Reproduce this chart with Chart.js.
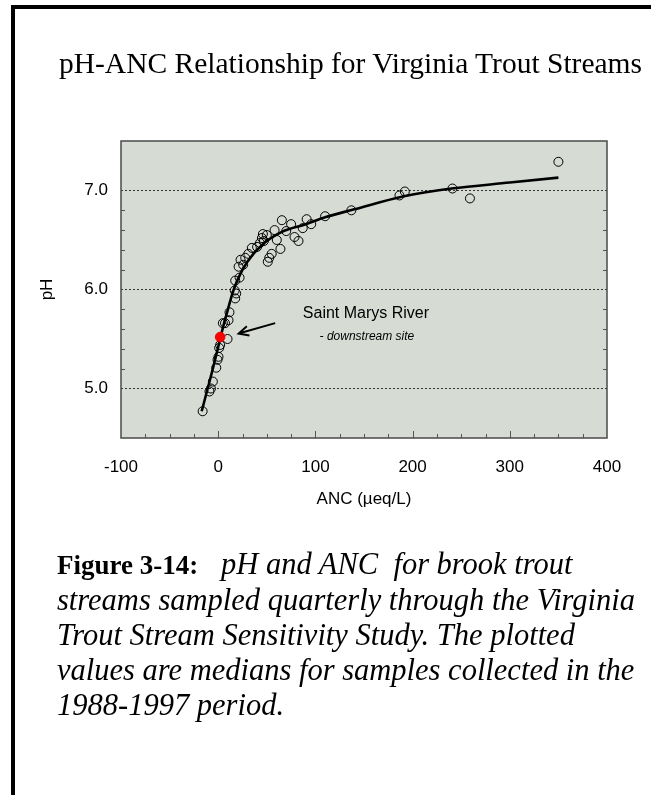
<!DOCTYPE html>
<html>
<head>
<meta charset="utf-8">
<script src="https://cdn.jsdelivr.net/npm/chart.js@4/dist/chart.umd.min.js"></script>
<style>
  html, body { margin: 0; padding: 0; background: #fff; }
  body { width: 651px; height: 795px; position: relative; overflow: hidden; }
  #frame { position: absolute; left: 11px; top: 5px; width: 700px; height: 900px;
           border-left: 4px solid #000; border-top: 4px solid #000; }
  #cv { position: absolute; left: 0; top: 0; }
  #title { position: absolute; left: 0; width: 701px; top: 46px; text-align: center; line-height: 34px;
           font-family: "Liberation Serif", "Times New Roman", serif; font-size: 29.5px; color: #000; white-space: nowrap; }
  #caption { position: absolute; left: 57px; top: 547px; width: 640px;
             font-family: "Liberation Serif", "Times New Roman", serif; font-size: 30.5px;
             line-height: 35px; font-style: italic; color: #000; white-space: nowrap; }
  #caption b { font-style: normal; font-size: 27px; }
</style>
</head>
<body>
<div id="frame"></div>
<canvas id="cv" width="651" height="795"></canvas>
<div id="title">pH-ANC Relationship for Virginia Trout Streams</div>
<div id="caption"><b>Figure 3-14:</b>&nbsp;&nbsp;&nbsp;pH and ANC&nbsp; for brook trout<br>streams sampled quarterly through the Virginia<br>Trout Stream Sensitivity Study. The plotted<br>values are medians for samples collected in the<br>1988-1997 period.</div>
<script>
// stream medians (ANC in ueq/L, pH)
var ancValues = [-16, -9, -7.5, -5.5, -2, -0.7, 0.3, 1, 2, 9.6, 4.8, 7, 10.6, 11.6, 17.5, 18.5, 17, 17.5,
    22, 21, 23, 25.7, 27.8, 31, 34.6, 40, 43, 47, 45, 46, 50, 51, 52.5, 55, 58, 60.3, 64, 65.5, 70, 75,
    78.5, 82.6, 87, 91, 95.7, 110, 137, 186.5, 192, 241, 259, 350];
var phValues = [4.77, 4.97, 5.00, 5.07, 5.21, 5.29, 5.32, 5.41, 5.44, 5.50, 5.66, 5.66, 5.69, 5.77, 5.91, 5.96, 5.99, 6.09,
    6.12, 6.23, 6.30, 6.25, 6.32, 6.36, 6.42, 6.43, 6.47, 6.49, 6.52, 6.56, 6.55, 6.28, 6.32, 6.36, 6.60, 6.50, 6.41, 6.70, 6.59, 6.66,
    6.53, 6.49, 6.62, 6.71, 6.66, 6.74, 6.80, 6.95, 6.99, 7.02, 6.92, 7.29];

// Saint Marys River - downstream site
var siteAnc = [2];
var sitePh = [5.52];

// fitted relationship
var curveAnc = [-17, -10, -5, 0, 5, 10, 15, 20, 30, 45, 65, 90, 110, 140, 190, 240, 300, 350];
var curvePh = [4.77, 5.03, 5.22, 5.42, 5.62, 5.80, 5.97, 6.10, 6.28, 6.45, 6.58, 6.66, 6.73, 6.81, 6.94, 7.02, 7.08, 7.13];

var xTicks = [-100, 0, 100, 200, 300, 400];
var yTicks = [5, 6, 7];

function toPoints(xs, ys) {
    return xs.map(function (x, i) { return {x: x, y: ys[i]}; });
}

var note = {
    label: 'Saint Marys River', sub: '- downstream site',
    labelAt: [152, 5.76], subAt: [153, 5.52],
    arrowFrom: [58.6, 5.66], arrowTo: [21, 5.555]
};

var plotDecor = {
    id: 'plotDecor',
    beforeDraw: function (chart) {
        var a = chart.chartArea, c = chart.ctx;
        c.save();
        c.fillStyle = 'rgb(214,219,212)';
        c.fillRect(a.left, a.top, a.right - a.left, a.bottom - a.top);
        c.restore();
    },
    afterDatasetsDraw: function (chart) {
        var a = chart.chartArea, c = chart.ctx;
        var xs = chart.scales.x, ys = chart.scales.y;
        c.save();
        // minor ticks
        c.strokeStyle = '#555';
        c.lineWidth = 1;
        c.beginPath();
        for (var v = -75; v < 400; v += 25) {
            var px = Math.round(xs.getPixelForValue(v)) + 0.5;
            var len = (v % 100 === 0) ? 7 : 4;
            c.moveTo(px, a.bottom);
            c.lineTo(px, a.bottom - len);
        }
        for (var k = 0; k <= 10; k++) {
            var pv = 5 + k * 0.2;
            if (Math.abs(pv - Math.round(pv)) < 0.01) continue;
            var py = Math.round(ys.getPixelForValue(pv)) + 0.5;
            c.moveTo(a.left, py); c.lineTo(a.left + 4, py);
            c.moveTo(a.right, py); c.lineTo(a.right - 4, py);
        }
        c.stroke();
        // plot frame
        c.strokeStyle = '#4a4a4a';
        c.lineWidth = 1.5;
        c.strokeRect(a.left, a.top, a.right - a.left, a.bottom - a.top);

        // annotation
        c.fillStyle = '#000';
        c.textAlign = 'center';
        c.textBaseline = 'middle';
        c.font = '16px "Liberation Sans", Arial, sans-serif';
        c.fillText(note.label, xs.getPixelForValue(note.labelAt[0]), ys.getPixelForValue(note.labelAt[1]));
        c.font = 'italic 12px "Liberation Sans", Arial, sans-serif';
        c.fillText(note.sub, xs.getPixelForValue(note.subAt[0]), ys.getPixelForValue(note.subAt[1]));

        var x1 = xs.getPixelForValue(note.arrowFrom[0]), y1 = ys.getPixelForValue(note.arrowFrom[1]);
        var x2 = xs.getPixelForValue(note.arrowTo[0]), y2 = ys.getPixelForValue(note.arrowTo[1]);
        var ang = Math.atan2(y2 - y1, x2 - x1);
        c.strokeStyle = '#000';
        c.lineWidth = 2;
        c.beginPath();
        c.moveTo(x1, y1); c.lineTo(x2, y2);
        c.moveTo(x2 - 11 * Math.cos(ang - 0.45), y2 - 11 * Math.sin(ang - 0.45));
        c.lineTo(x2, y2);
        c.lineTo(x2 - 11 * Math.cos(ang + 0.45), y2 - 11 * Math.sin(ang + 0.45));
        c.stroke();
        c.restore();
    }
};

var chart = new Chart(document.getElementById('cv'), {
    type: 'scatter',
    data: {
        datasets: [
            {
                label: 'Saint Marys River',
                data: toPoints(siteAnc, sitePh),
                pointRadius: 4.8,
                pointBackgroundColor: '#f00',
                pointBorderColor: '#e00',
                pointBorderWidth: 1
            },
            {
                label: 'streams',
                data: toPoints(ancValues, phValues),
                pointRadius: 4.5,
                pointBackgroundColor: 'rgba(0,0,0,0)',
                pointBorderColor: '#000',
                pointBorderWidth: 1
            },
            {
                label: 'fit',
                data: toPoints(curveAnc, curvePh),
                showLine: true,
                borderColor: '#000',
                borderWidth: 2.6,
                pointRadius: 0,
                cubicInterpolationMode: 'monotone',
                fill: false
            }
        ]
    },
    options: {
        responsive: false,
        animation: false,
        events: [],
        layout: { padding: { left: 30, top: 141, right: 44, bottom: 267 } },
        plugins: { legend: { display: false }, tooltip: { enabled: false } },
        scales: {
            x: {
                type: 'linear', min: -100, max: 400,
                afterBuildTicks: function (s) { s.ticks = xTicks.map(function (v) { return {value: v}; }); },
                afterFit: function (s) { s.height = 90; },
                grid: { display: false, drawTicks: false },
                border: { display: false },
                ticks: { color: '#000', padding: 19, font: { family: '"Liberation Sans", Arial, sans-serif', size: 17 } },
                title: { display: true, text: 'ANC (µeq/L)', color: '#000', padding: { top: 0, bottom: 18 },
                         font: { family: '"Liberation Sans", Arial, sans-serif', size: 17 } }
            },
            y: {
                type: 'linear', min: 4.5, max: 7.5,
                afterBuildTicks: function (s) { s.ticks = yTicks.map(function (v) { return {value: v}; }); },
                afterFit: function (s) { s.width = 91; },
                grid: { color: '#333', lineWidth: 1, drawTicks: false },
                border: { display: false, dash: [2, 2] },
                ticks: { color: '#000', padding: 13, callback: function (v) { return v.toFixed(1); },
                         font: { family: '"Liberation Sans", Arial, sans-serif', size: 17 } },
                title: { display: true, text: 'pH', color: '#000', padding: { top: 7, bottom: 0 },
                         font: { family: '"Liberation Sans", Arial, sans-serif', size: 17 } }
            }
        }
    },
    plugins: [plotDecor]
});
</script>
</body>
</html>
